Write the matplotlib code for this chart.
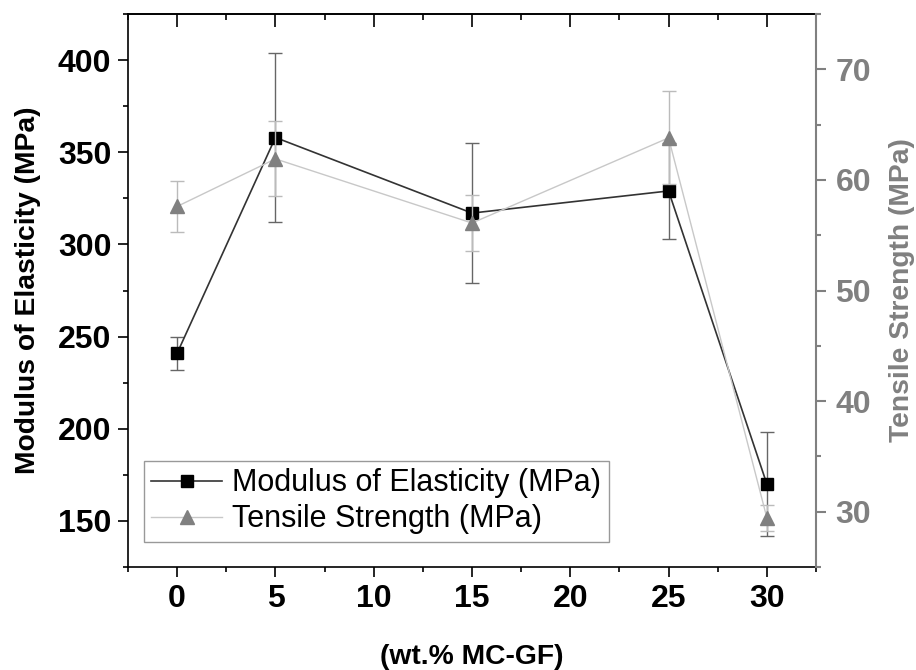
import matplotlib
matplotlib.use("Agg")
import matplotlib.pyplot as plt
from matplotlib.ticker import MultipleLocator

plt.rcParams['font.family'] = ['Liberation Sans', 'DejaVu Sans']

# Data
wt = [0, 5, 15, 25, 30]
moe = [241, 358, 317, 329, 170]
moe_err = [9, 46, 38, 26, 28]
ts = [57.6, 61.9, 56.1, 63.8, 29.45]
ts_err = [2.3, 3.4, 2.5, 4.2, 1.15]

xticks = [0, 5, 10, 15, 20, 25, 30]
left_ticks = [150, 200, 250, 300, 350, 400]
right_ticks = [30, 40, 50, 60, 70]

GRAY = '#808080'
TICK_FS = 23
LABEL_FS = 20.3

fig = plt.figure(figsize=(9.16, 6.7), dpi=100)
ax = fig.add_axes([128/916, 1-567/670, (816-128)/916, (567-14)/670])
ax2 = ax.twinx()

# Modulus of elasticity
ax.errorbar(wt, moe, yerr=moe_err, fmt='none', ecolor='#666666', elinewidth=1.0,
            capsize=5, capthick=1.0, zorder=2)
l1, = ax.plot(wt, moe, color='#333333', lw=1.2, marker='s', markersize=8,
              markerfacecolor='black', markeredgecolor='black',
              label='Modulus of Elasticity (MPa)', zorder=3)

# Tensile strength
ax2.errorbar(wt, ts, yerr=ts_err, fmt='none', ecolor='#bbbbbb', elinewidth=1.0,
             capsize=5, capthick=1.0, zorder=2)
l2, = ax2.plot(wt, ts, color='#c8c8c8', lw=1.0, marker='^', markersize=10,
               markerfacecolor=GRAY, markeredgecolor=GRAY,
               label='Tensile Strength (MPa)', zorder=3)

ax.set_xlim(-2.5, 32.5)
ax.set_ylim(125, 425)
ax2.set_ylim(25, 75)

ax.set_xticks(xticks)
ax.xaxis.set_minor_locator(MultipleLocator(2.5))
ax.set_yticks(left_ticks)
ax.yaxis.set_minor_locator(MultipleLocator(25))
ax2.set_yticks(right_ticks)
ax2.yaxis.set_minor_locator(MultipleLocator(5))

for a in (ax, ax2):
    for s in a.spines.values():
        s.set_linewidth(1.2)

ax.spines['right'].set_visible(False)
ax2.spines['left'].set_visible(False)
ax2.spines['top'].set_visible(False)
ax2.spines['bottom'].set_visible(False)
ax2.spines['right'].set_color(GRAY)
ax2.spines['right'].set_linewidth(1.5)

ax.tick_params(axis='x', which='major', direction='out', length=7, width=1.2,
               labelsize=TICK_FS, pad=5, top=False)
ax.tick_params(axis='x', which='minor', direction='out', length=3.5, width=1.2, top=False)
ax.tick_params(axis='y', which='major', direction='out', length=7, width=1.2,
               labelsize=TICK_FS, pad=5)
ax.tick_params(axis='y', which='minor', direction='out', length=3.5, width=1.2)
ax2.tick_params(axis='y', which='major', direction='out', length=7, width=1.5,
                labelsize=TICK_FS, pad=7, colors=GRAY)
ax2.tick_params(axis='y', which='minor', direction='out', length=3.5, width=1.5,
                colors=GRAY)

# Top ticks pointing inward
sec = ax.secondary_xaxis('top')
sec.set_xticks(xticks)
sec.xaxis.set_minor_locator(MultipleLocator(2.5))
sec.tick_params(axis='x', which='major', direction='in', length=9, width=1.2, labeltop=False)
sec.tick_params(axis='x', which='minor', direction='in', length=4.5, width=1.2)
sec.spines['top'].set_linewidth(1.2)

for lab in ax.get_xticklabels() + ax.get_yticklabels():
    lab.set_fontweight('bold')
for lab in ax2.get_yticklabels():
    lab.set_fontweight('bold')

ax.set_xlabel('(wt.% MC-GF)', fontsize=LABEL_FS, fontweight='bold', labelpad=22)
ax.set_ylabel('Modulus of Elasticity (MPa)', fontsize=LABEL_FS, fontweight='bold', labelpad=12)
ax2.set_ylabel('Tensile Strength (MPa)', fontsize=LABEL_FS, fontweight='bold', color=GRAY,
               labelpad=13)

leg = ax2.legend(handles=[l1, l2], loc='lower left', bbox_to_anchor=(0.023, 0.045),
                 borderaxespad=0, fontsize=22, frameon=True, fancybox=False,
                 edgecolor=GRAY, handlelength=2.3, handletextpad=0.35,
                 borderpad=0.25, labelspacing=0.2)
leg.get_frame().set_linewidth(1.0)

fig.savefig('out.png', dpi=100)
